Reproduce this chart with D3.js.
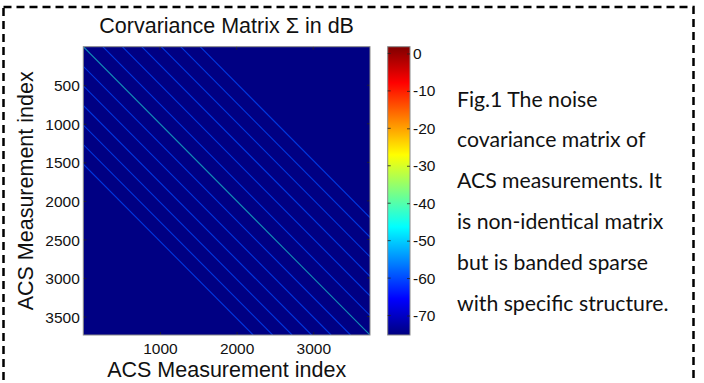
<!DOCTYPE html>
<html>
<head>
<meta charset="utf-8">
<script src="https://cdn.jsdelivr.net/npm/d3@7"></script>
<style>
  body { margin: 0; background: #fff; }
  svg { display: block; }
</style>
</head>
<body>
<svg id="chart" width="704" height="383"></svg>
<script>
// matrix size and band structure (offsets in measurement index)
const matrixSize = 3740;
const bandOffsets = [254, 508, 762, 1016, 1270, 1524];
const mainDiagDb = -44;
const bandDb = -60;
const floorDb = -75;

const xTicks = [1000, 2000, 3000];
const yTicks = [500, 1000, 1500, 2000, 2500, 3000, 3500];
const cbarTicks = [0, -10, -20, -30, -40, -50, -60, -70];
const cbarRange = [-75.2, 1.8];

const captionLines = [
  'Fig.1 The noise',
  'covariance matrix of',
  'ACS measurements. It',
  'is non-identical matrix',
  'but is banded sparse',
  'with specific structure.'
];

const svg = d3.select('#chart');
const plot = {left: 83.3, right: 370, top: 46.7, bottom: 335};
const cbar = {left: 387.7, right: 410};
const sans = '"Liberation Sans", Arial, sans-serif';

// jet colormap
const jetT = d3.scaleLinear()
  .domain([0, 0.125, 0.375, 0.625, 0.875, 1])
  .range(['#000080', '#0000ff', '#00ffff', '#ffff00', '#ff0000', '#800000'])
  .clamp(true);
const dbToT = d3.scaleLinear().domain(cbarRange).range([0, 1]).clamp(true);
const jet = v => jetT(dbToT(v));

// dashed frame
svg.append('rect')
  .attr('x', 3.5).attr('y', 7)
  .attr('width', 690).attr('height', 400)
  .attr('fill', 'none')
  .attr('stroke', '#000')
  .attr('stroke-width', 2.5)
  .attr('stroke-dasharray', '8,5');

const x = d3.scaleLinear().domain([0, matrixSize]).range([plot.left, plot.right]);
const y = d3.scaleLinear().domain([0, matrixSize]).range([plot.top, plot.bottom]);

svg.append('clipPath').attr('id', 'clip')
  .append('rect')
  .attr('x', plot.left).attr('y', plot.top)
  .attr('width', plot.right - plot.left).attr('height', plot.bottom - plot.top);

svg.append('rect')
  .attr('x', plot.left).attr('y', plot.top)
  .attr('width', plot.right - plot.left).attr('height', plot.bottom - plot.top)
  .attr('fill', jet(floorDb));

const diags = [{k: 0, v: mainDiagDb}]
  .concat(bandOffsets.map(k => ({k: k, v: bandDb})))
  .concat(bandOffsets.map(k => ({k: -k, v: bandDb})));

svg.append('g')
  .attr('clip-path', 'url(#clip)')
  .selectAll('line')
  .data(diags)
  .join('line')
  .attr('x1', d => x(Math.max(d.k, 0)))
  .attr('y1', d => y(Math.max(-d.k, 0)))
  .attr('x2', d => x(matrixSize - Math.max(-d.k, 0)))
  .attr('y2', d => y(matrixSize - Math.max(d.k, 0)))
  .attr('stroke', d => jet(d.v))
  .attr('stroke-width', 1.1)
  .attr('stroke-opacity', d => d.k === 0 ? 0.55 : 0.75);

// axes box + inward ticks
const axisX = d3.axisBottom(x).tickValues(xTicks).tickSize(-3).tickFormat(d3.format('d'));
const axisY = d3.axisLeft(y).tickValues(yTicks).tickSize(-3).tickFormat(d3.format('d'));

const gx = svg.append('g')
  .attr('transform', `translate(0,${plot.bottom})`)
  .call(axisX);
const gy = svg.append('g')
  .attr('transform', `translate(${plot.left},0)`)
  .call(axisY);
[gx, gy].forEach(g => {
  g.select('.domain').remove();
  g.selectAll('.tick line').attr('stroke', '#222').attr('stroke-width', 0.8);
  g.selectAll('.tick text')
    .attr('fill', '#111')
    .style('font-family', sans)
    .style('font-size', '15.5px');
});
gx.selectAll('.tick text').attr('dy', null).attr('y', 19);
gy.selectAll('.tick text').attr('x', -3.5).attr('dy', '0.36em');

// mirrored ticks on top and right
svg.append('g').selectAll('line').data(xTicks).join('line')
  .attr('x1', d => x(d)).attr('x2', d => x(d))
  .attr('y1', plot.top).attr('y2', plot.top + 3)
  .attr('stroke', '#222').attr('stroke-width', 0.8);
svg.append('g').selectAll('line').data(yTicks).join('line')
  .attr('y1', d => y(d)).attr('y2', d => y(d))
  .attr('x1', plot.right).attr('x2', plot.right - 3)
  .attr('stroke', '#222').attr('stroke-width', 0.8);

svg.append('rect')
  .attr('x', plot.left).attr('y', plot.top)
  .attr('width', plot.right - plot.left).attr('height', plot.bottom - plot.top)
  .attr('fill', 'none').attr('stroke', '#8a8a8a').attr('stroke-width', 1);

// titles
svg.append('text')
  .attr('x', (plot.left + plot.right) / 2).attr('y', 33)
  .attr('text-anchor', 'middle')
  .style('font-family', sans).style('font-size', '21.5px').attr('fill', '#111')
  .text('Corvariance Matrix Σ in dB');

svg.append('text')
  .attr('x', (plot.left + plot.right) / 2).attr('y', 377)
  .attr('text-anchor', 'middle')
  .style('font-family', sans).style('font-size', '21.5px').attr('fill', '#111')
  .text('ACS Measurement index');

svg.append('text')
  .attr('transform', `translate(33.3,${(plot.top + plot.bottom) / 2}) rotate(-90)`)
  .attr('text-anchor', 'middle')
  .style('font-family', sans).style('font-size', '21.5px').attr('fill', '#111')
  .text('ACS Measurement index');

// colorbar
const cy = d3.scaleLinear().domain(cbarRange).range([plot.bottom, plot.top]);
const grad = svg.append('defs').append('linearGradient')
  .attr('id', 'jet').attr('x1', 0).attr('y1', 1).attr('x2', 0).attr('y2', 0);
grad.selectAll('stop')
  .data(d3.range(0, 1.0001, 0.025))
  .join('stop')
  .attr('offset', d => d)
  .attr('stop-color', d => jetT(d));

svg.append('rect')
  .attr('x', cbar.left).attr('y', plot.top)
  .attr('width', cbar.right - cbar.left).attr('height', plot.bottom - plot.top)
  .attr('fill', 'url(#jet)')
  .attr('stroke', '#8a8a8a').attr('stroke-width', 1);

const cbAxis = d3.axisRight(cy).tickValues(cbarTicks).tickSize(-3);
const gc = svg.append('g')
  .attr('transform', `translate(${cbar.right},0)`)
  .call(cbAxis);
gc.select('.domain').remove();
gc.selectAll('.tick line').attr('stroke', '#222').attr('stroke-width', 0.8);
gc.selectAll('.tick text')
  .attr('x', 3)
  .attr('fill', '#111')
  .style('font-family', sans)
  .style('font-size', '15.5px')
  .text(d => d === 0 ? '0' : '-' + Math.abs(d));
svg.append('g').selectAll('line').data(cbarTicks).join('line')
  .attr('y1', d => cy(d)).attr('y2', d => cy(d))
  .attr('x1', cbar.left).attr('x2', cbar.left + 3)
  .attr('stroke', '#222').attr('stroke-width', 0.8);

// caption on the right
const cap = svg.append('g').selectAll('text')
  .data(captionLines)
  .join('text')
  .attr('x', 457)
  .attr('y', (d, i) => 106.5 + i * 40.8)
  .style('font-family', 'Lato, "Open Sans", sans-serif')
  .style('font-size', '20px')
  .attr('fill', '#111')
  .text(d => d);
// fit the widest line to the reference width
let widest = 0;
cap.each(function() { widest = Math.max(widest, this.getComputedTextLength()); });
if (widest > 0) cap.style('font-size', (20 * 211.5 / widest).toFixed(2) + 'px');
</script>
</body>
</html>
